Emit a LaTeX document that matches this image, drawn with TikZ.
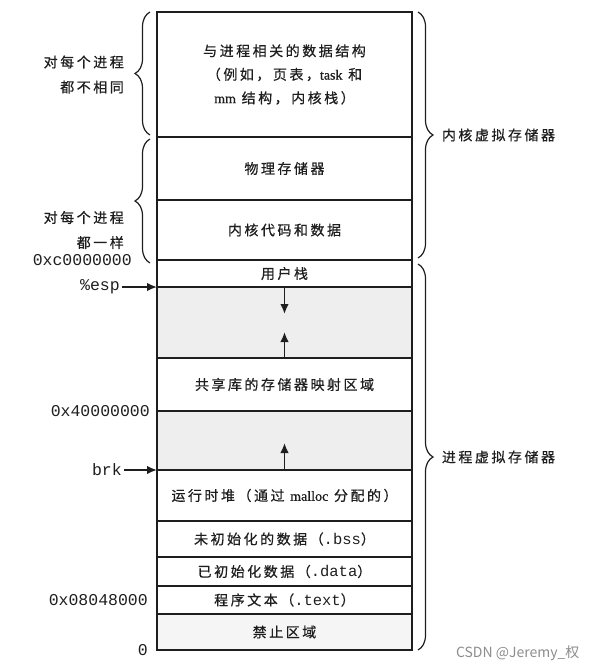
\documentclass[tikz,border=0pt]{standalone}
\usepackage{fontspec}
\setmainfont{Noto Sans CJK SC}[LetterSpace=18, FakeBold=0.6]
\setmonofont{Liberation Mono}
\newfontfamily\latin{Liberation Serif}[FakeBold=0.6]
\newfontfamily\wmfont{Noto Sans CJK SC}
\usetikzlibrary{arrows.meta,positioning,calc,decorations.pathreplacing}
\definecolor{ink}{HTML}{1E1E1E}
\definecolor{shade}{HTML}{EEEEEE}
\definecolor{paleshade}{HTML}{F5F5F5}
\definecolor{wmgray}{HTML}{8C8C8C}
\newcommand\zhsize{\fontsize{14}{23.5}\selectfont}
\newcommand\sidesize{\fontsize{14}{25}\selectfont}
\newcommand\addrsize{\fontsize{16.5}{18}\selectfont}
\newcommand\sect[1]{{\fontsize{15.5}{18}\selectfont\texttt{#1}}}
\tikzset{
  every node/.style={font=\zhsize, text=ink},
  seg/.style={draw=ink, line width=1.6pt, minimum width=255pt, inner sep=0pt, outer sep=0pt, align=center},
  void/.style={seg, fill=shade},
  banned/.style={seg, fill=paleshade},
  addr/.style={font=\addrsize\ttfamily, inner sep=2pt},
  side/.style={align=right, inner sep=0pt, font=\sidesize},
  arr/.style={-{Latex[length=10pt,width=8.5pt]}, draw=ink, line width=1.7pt},
  curly/.style={decorate, decoration={brace, amplitude=15pt}, draw=ink, line width=1.2pt},
}

\begin{document}
\begin{tikzpicture}[x=1pt, y=-1pt]
  \useasboundingbox (0,0) rectangle (597,670);

  % memory column: name / top / bottom / style / text
  \foreach \n/\t/\b/\s/\txt in {
      ds/12/137/seg/{与进程相关的数据结构\\（例如，页表，{\latin task} 和\\{\latin mm} 结构，内核栈）},
      phys/137/200/seg/物理存储器,
      kcode/200/260/seg/内核代码和数据,
      ustack/260/287/seg/用户栈,
      gapa/287/358/void/{},
      shlib/358/411/seg/共享库的存储器映射区域,
      gapb/411/470/void/{},
      heap/470/521/seg/{运行时堆（通过 {\latin malloc} 分配的）},
      bss/521/557/seg/{未初始化的数据（\sect{.bss}）},
      data/557/586/seg/{已初始化数据（\sect{.data}）},
      prog/586/614/seg/{程序文本（\sect{.text}）},
      forbid/614/650/banned/禁止区域} {
    \node[\s, minimum height={\b-\t}] (\n) at (284.5,{(\t+\b)/2}) {\txt};
  }

  % growth arrows
  \draw[arr] (ustack.south) -- ++(0,27);
  \draw[arr] (shlib.north) -- ++(0,-26);
  \draw[arr] (heap.north) -- ++(0,-27);

  % addresses on the left
  \node[addr, left=23pt of kcode.south west] (kbase) {0xc0000000};
  \node[addr, left=35pt of ustack.south west] (esp) {\%esp};
  \draw[arr] (esp) -- (ustack.south west);
  \node[addr, left=5pt of shlib.south west] (libbase) {0x40000000};
  \node[addr, left=33pt of heap.north west] (brk) {brk};
  \draw[arr] (brk) -- (heap.north west);
  \node[addr, left=7pt of prog.west] (progbase) {0x08048000};
  \node[addr, left=7pt of forbid.south west] (zero) {0};

  % left braces
  \draw[curly] ([xshift=-7pt,yshift=2pt]ds.south west) -- ([xshift=-7pt]ds.north west);
  \draw[curly] ([xshift=-7pt,yshift=-3pt]kcode.south west) -- ([xshift=-7pt,yshift=-2pt]phys.north west);
  \node[side, left=33pt of ds.west] (differ) {对每个进程\\都不相同};
  \node[side, left=33pt of kcode.west] (shared) {对每个进程\\都一样};

  % right braces
  \draw[curly] ([xshift=6pt]ds.north east) -- ([xshift=6pt,yshift=2pt]kcode.south east)
    node[midway, right=20pt] (kvm) {内核虚拟存储器};
  \draw[curly] ([xshift=6pt,yshift=-4pt]ustack.north east) -- ([xshift=6pt]forbid.south east)
    node[midway, right=20pt] (pvm) {进程虚拟存储器};

  % watermark
  \node[font=\fontsize{14}{16}\wmfont, text=wmgray, anchor=east] (wm) at (583,653) {CSDN @Jeremy\_权};
\end{tikzpicture}
\end{document}
